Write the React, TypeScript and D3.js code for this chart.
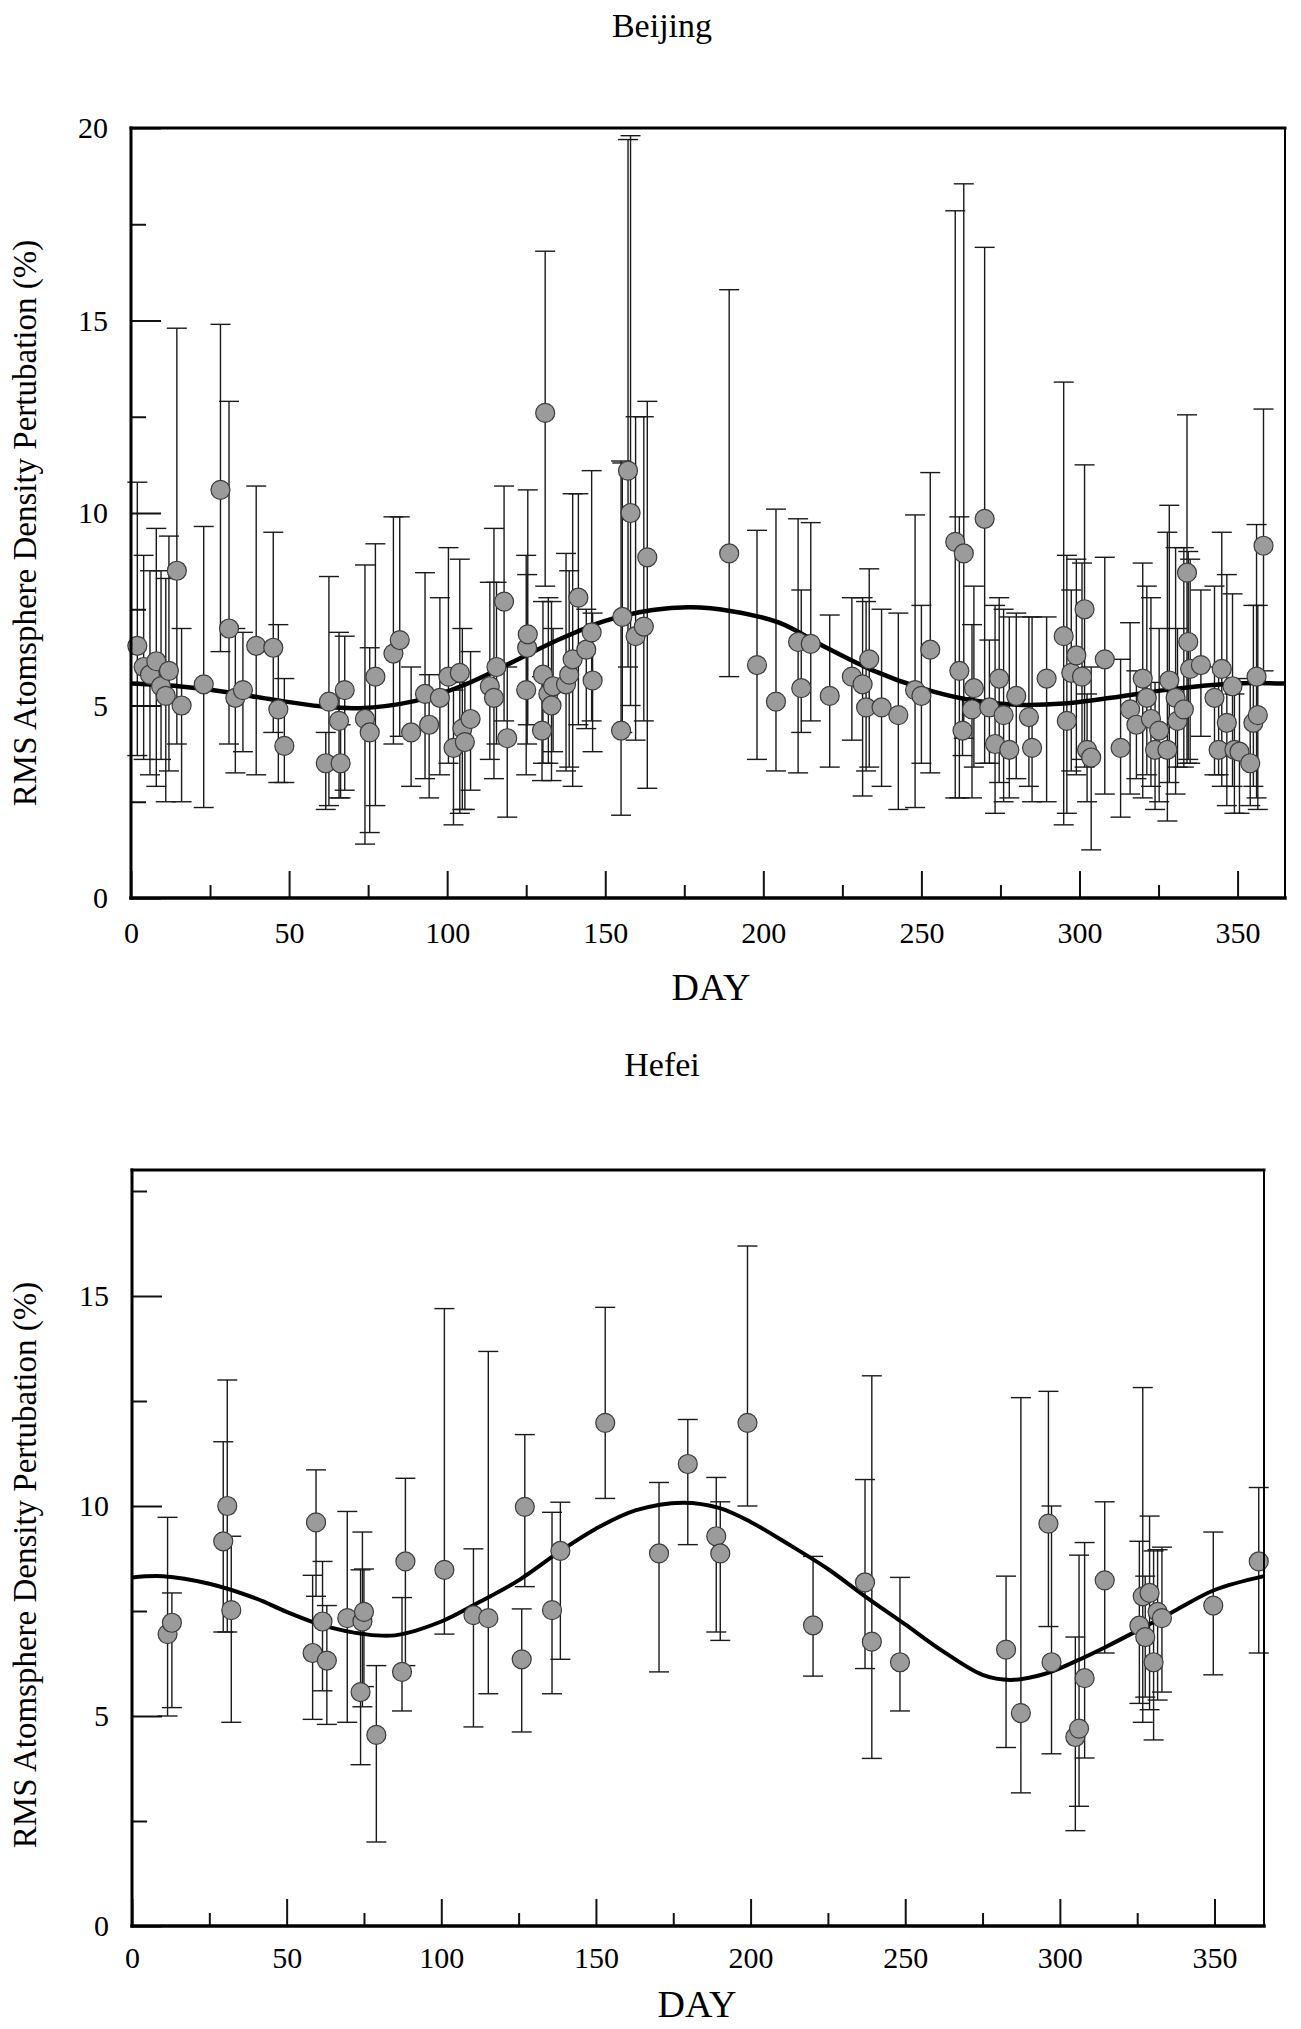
import { useRef, useEffect } from "react"
import * as d3 from "d3"

// [day, rms %, lower end of bar, upper end of bar]
type Obs = [number, number, number, number]
// [day, fitted rms %]
type FitPoint = [number, number]

const dayTicks = [0, 50, 100, 150, 200, 250, 300, 350]
const dayMinorTicks = [25, 75, 125, 175, 225, 275, 325]
const beijingYTicks = [0, 5, 10, 15, 20]
const hefeiYTicks = [0, 5, 10, 15]
const yMinorTicks = [2.5, 7.5, 12.5, 17.5]

const beijingObs: Obs[] = [
  [2, 6.55, 3.7, 10.8], [4, 6.0, 3.6, 8.9], [6, 5.8, 3.2, 8.5], [8, 6.15, 2.9, 9.6],
  [9.5, 5.5, 3.6, 8.5], [11, 5.25, 2.5, 8.3], [12, 5.9, 3.3, 9.4], [14.5, 8.5, 4.0, 14.8],
  [16, 5.0, 2.5, 7.0], [23, 5.55, 2.35, 9.65], [28.3, 10.6, 6.4, 14.9], [31, 7.0, 4.0, 12.9],
  [33, 5.2, 3.25, 7.0], [35.4, 5.4, 3.8, 6.9], [39.6, 6.55, 3.2, 10.7], [45, 6.5, 4.3, 9.5],
  [46.6, 4.9, 3.0, 7.1], [48.5, 3.95, 3.0, 5.7], [61.6, 3.5, 2.3, 4.3], [62.6, 5.1, 2.4, 8.35],
  [65.8, 4.6, 2.6, 6.9], [66.3, 3.5, 2.6, 4.5], [67.6, 5.4, 2.8, 6.8], [74, 4.65, 1.4, 8.65],
  [75.5, 4.3, 1.7, 6.5], [77.3, 5.75, 2.4, 9.2], [83, 6.35, 4.0, 9.9], [85, 6.7, 4.2, 9.9],
  [88.6, 4.3, 2.9, 6.0], [93, 5.3, 3.1, 8.45], [94.3, 4.5, 2.6, 5.8], [97.7, 5.2, 3.2, 7.8],
  [100.4, 5.75, 3.5, 9.1], [102, 3.9, 1.9, 5.4], [104, 5.85, 2.2, 8.8], [104.8, 4.4, 2.3, 7.0],
  [105.6, 4.05, 2.3, 5.6], [107.4, 4.65, 2.8, 6.4], [113.5, 5.5, 3.6, 8.2], [114.8, 5.2, 3.1, 9.6],
  [115.6, 6.0, 4.0, 8.2], [118, 7.7, 4.6, 10.7], [119, 4.15, 2.1, 6.0], [125, 5.4, 3.2, 8.9],
  [125.3, 6.5, 4.0, 8.4], [125.5, 6.85, 4.5, 10.6], [130, 4.35, 3.05, 5.75], [130.3, 5.8, 3.5, 7.7],
  [131, 12.6, 8.1, 16.8], [132, 5.3, 3.5, 7.8], [133, 5.0, 3.05, 7.7], [133.5, 5.5, 3.8, 7.0],
  [137.6, 5.55, 3.3, 8.95], [138.6, 5.8, 3.4, 8.5], [139.7, 6.2, 2.9, 10.5], [141.5, 7.8, 4.5, 10.5],
  [144, 6.45, 4.4, 7.5], [145.7, 6.9, 4.6, 11.1], [146, 5.65, 3.8, 7.4], [155, 4.35, 2.15, 11.35],
  [155.4, 7.3, 4.3, 11.3], [157.2, 11.1, 6.0, 19.7], [158, 10.0, 5.0, 19.8], [159.6, 6.8, 4.1, 12.5],
  [162.2, 7.05, 4.6, 12.5], [163.3, 8.85, 2.85, 12.9], [189.2, 8.95, 5.75, 15.8], [198, 6.05, 3.6, 9.55],
  [204, 5.1, 3.3, 10.1], [211, 6.65, 3.25, 9.85], [212, 5.45, 4.3, 8.0], [215, 6.6, 4.6, 9.75],
  [221, 5.25, 3.4, 7.35], [228, 5.75, 4.1, 7.8], [231.4, 5.55, 2.65, 7.8], [232.5, 4.95, 3.3, 7.7],
  [233.5, 6.2, 3.4, 8.55], [237.4, 4.95, 2.9, 7.5], [242.7, 4.75, 2.3, 7.4], [248, 5.4, 2.35, 9.95],
  [250, 5.25, 3.5, 7.6], [252.8, 6.45, 3.25, 11.05], [260.7, 9.25, 2.6, 17.85], [262, 5.9, 2.6, 9.9],
  [263, 4.35, 3.7, 5.2], [263.4, 8.95, 4.15, 18.55], [266, 4.9, 2.6, 7.1], [266.6, 5.45, 3.4, 8.1],
  [270, 9.85, 3.5, 16.9], [271.5, 4.95, 3.5, 6.7], [273.3, 4.0, 2.2, 7.6], [274.6, 5.7, 3.0, 7.8],
  [276, 4.75, 2.5, 7.5], [277.8, 3.85, 2.6, 7.3], [280, 5.25, 3.1, 7.4], [284, 4.7, 2.9, 7.3],
  [285, 3.9, 2.5, 7.3], [289.6, 5.7, 2.5, 7.3], [295, 6.8, 1.9, 13.4], [296, 4.6, 2.2, 8.9],
  [297.4, 5.85, 3.3, 8.0], [299, 6.3, 3.2, 8.8], [300.8, 5.75, 3.6, 8.7], [301.6, 7.5, 3.4, 11.25],
  [302.4, 3.85, 2.5, 5.3], [303.7, 3.65, 1.25, 6.0], [308, 6.2, 2.7, 8.85], [313, 3.9, 2.1, 6.2],
  [316, 4.9, 2.7, 7.15], [318, 4.5, 3.1, 5.9], [320, 5.7, 2.6, 8.7], [321.3, 5.2, 3.2, 8.1],
  [322.6, 4.65, 2.9, 7.8], [323.9, 3.85, 2.3, 5.6], [325.2, 4.35, 2.5, 7.0], [327.8, 3.85, 2.0, 9.5],
  [328.4, 5.65, 3.0, 10.2], [330.4, 5.2, 2.7, 9.1], [331, 4.6, 3.4, 7.0], [333, 4.9, 3.4, 9.1],
  [334, 8.45, 3.5, 12.55], [334.4, 6.65, 3.6, 9.0], [335, 5.95, 3.5, 8.8], [338.4, 6.05, 4.2, 8.0],
  [342.7, 5.2, 3.2, 8.1], [344, 3.85, 3.2, 6.0], [345, 5.95, 2.9, 9.5], [346.6, 4.55, 2.4, 8.4],
  [348.4, 5.5, 2.9, 7.9], [349, 3.85, 2.2, 5.3], [350.6, 3.8, 2.2, 5.7], [354, 3.5, 2.4, 5.6],
  [355, 4.55, 2.9, 7.6], [356, 5.75, 2.6, 9.7], [356.4, 4.75, 2.3, 7.6], [358.2, 9.15, 5.9, 12.7],
]

const beijingFit: FitPoint[] = [
  [0, 5.57], [15, 5.5], [30, 5.35], [45, 5.15], [60, 4.98], [72, 4.93], [90, 5.12],
  [105, 5.52], [120, 6.1], [135, 6.7], [150, 7.2], [165, 7.48], [177, 7.55], [190, 7.45],
  [205, 7.15], [220, 6.5], [235, 5.9], [250, 5.45], [265, 5.15], [280, 5.02], [295, 5.05],
  [310, 5.2], [325, 5.38], [340, 5.52], [352, 5.58], [365, 5.57],
]

const hefeiObs: Obs[] = [
  [11.5, 6.95, 5.0, 9.73], [12.9, 7.22, 5.2, 7.93], [29.5, 9.16, 7.0, 11.53], [30.8, 10.0, 7.0, 13.0],
  [32.1, 7.52, 4.85, 9.28], [58.4, 6.5, 4.92, 8.35], [59.5, 9.61, 7.85, 10.86], [61.6, 7.25, 5.6, 8.68],
  [63, 6.32, 4.8, 7.63], [69.6, 7.33, 4.85, 9.87], [73.9, 5.57, 3.84, 8.48], [74.5, 7.25, 5.22, 9.38],
  [75, 7.48, 5.7, 8.5], [79, 4.55, 2.0, 6.2], [87.3, 6.05, 5.12, 7.82], [88.4, 8.68, 6.2, 10.66],
  [101, 8.48, 6.95, 14.7], [110.4, 7.4, 4.74, 8.98], [115.2, 7.33, 5.53, 13.68], [126, 6.35, 4.62, 7.55],
  [127, 9.98, 8.08, 11.7], [135.8, 7.52, 5.53, 9.85], [138.5, 8.93, 6.35, 10.09], [153, 11.98, 10.18, 14.73],
  [170.4, 8.87, 6.05, 10.56], [179.7, 11.0, 9.08, 12.06], [188.9, 9.28, 7.0, 10.68], [190.2, 8.87, 6.8, 10.1],
  [199, 11.98, 10.0, 16.19], [220.2, 7.16, 5.95, 8.8], [237, 8.18, 6.13, 10.63], [239.2, 6.77, 3.99, 13.1],
  [248.3, 6.28, 5.12, 8.3], [282.6, 6.58, 4.25, 8.33], [287.4, 5.07, 3.17, 12.58], [296.3, 9.58, 7.13, 12.73],
  [297.3, 6.28, 4.1, 10.0], [305, 4.5, 2.27, 6.88], [306.2, 4.7, 2.85, 8.83], [308, 5.9, 4.0, 9.13],
  [314.5, 8.23, 6.5, 10.1], [325.7, 7.15, 5.3, 9.16], [326.8, 7.85, 4.85, 12.82], [327.6, 6.88, 5.45, 8.33],
  [329, 7.93, 5.15, 9.76], [330.3, 6.28, 4.43, 8.93], [331.6, 7.48, 5.38, 8.96], [333, 7.33, 5.57, 9.02],
  [349.6, 7.63, 5.98, 9.38], [364.3, 8.68, 6.5, 10.44],
]

const hefeiFit: FitPoint[] = [
  [0, 8.3], [10, 8.33], [25, 8.15], [40, 7.8], [50, 7.48], [62, 7.15], [75, 6.95], [85, 6.92],
  [100, 7.25], [112, 7.7], [125, 8.23], [138, 8.9], [150, 9.46], [163, 9.9], [178, 10.08],
  [190, 9.95], [200, 9.62], [212, 9.1], [225, 8.5], [237, 7.85], [250, 7.18], [262, 6.55],
  [275, 5.98], [284, 5.86], [295, 6.0], [305, 6.3], [315, 6.65], [325, 7.03], [337, 7.5],
  [350, 8.0], [366, 8.33],
]

const serif = '"Liberation Serif", "Times New Roman", serif'

interface Panel {
  title: string
  obs: Obs[]
  fit: FitPoint[]
  yTicks: number[]
  xMax: number
  yMax: number
  left: number
  right: number
  top: number
  bottom: number
  titleX: number
  titleY: number
  xLabelX: number
  xLabelY: number
  yLabelY: number
  xTickPad: number
  fitWidth: number
}

const panels: Panel[] = [
  {
    title: "Beijing", obs: beijingObs, fit: beijingFit, yTicks: beijingYTicks,
    xMax: 365, yMax: 20, left: 131, right: 1285, top: 128, bottom: 898,
    titleX: 662, titleY: 37, xLabelX: 711, xLabelY: 1000, yLabelY: 523, xTickPad: 24, fitWidth: 4.5,
  },
  {
    title: "Hefei", obs: hefeiObs, fit: hefeiFit, yTicks: hefeiYTicks,
    xMax: 366, yMax: 18, left: 132, right: 1264, top: 1170, bottom: 1926,
    titleX: 662, titleY: 1076, xLabelX: 697, xLabelY: 2017, yLabelY: 1565, xTickPad: 21, fitWidth: 4,
  },
]

function drawPanel(svg: d3.Selection<SVGSVGElement, unknown, null, undefined>, p: Panel) {
  const x = d3.scaleLinear().domain([0, p.xMax]).range([p.left, p.right])
  const y = d3.scaleLinear().domain([0, p.yMax]).range([p.bottom, p.top])
  const g = svg.append("g")

  // Title
  g.append("text")
    .attr("x", p.titleX)
    .attr("y", p.titleY)
    .attr("text-anchor", "middle")
    .style("font-family", serif)
    .style("font-size", "34px")
    .text(p.title)

  // Error bars
  const bars = g.append("g").attr("stroke", "#1a1a1a").attr("stroke-width", 1.4)
  bars
    .selectAll(".err")
    .data(p.obs)
    .join("line")
    .attr("class", "err")
    .attr("x1", (d) => x(d[0]))
    .attr("x2", (d) => x(d[0]))
    .attr("y1", (d) => y(d[2]))
    .attr("y2", (d) => y(d[3]))
  bars
    .selectAll(".cap-lo")
    .data(p.obs)
    .join("line")
    .attr("class", "cap-lo")
    .attr("x1", (d) => x(d[0]) - 10)
    .attr("x2", (d) => x(d[0]) + 10)
    .attr("y1", (d) => y(d[2]))
    .attr("y2", (d) => y(d[2]))
  bars
    .selectAll(".cap-hi")
    .data(p.obs)
    .join("line")
    .attr("class", "cap-hi")
    .attr("x1", (d) => x(d[0]) - 10)
    .attr("x2", (d) => x(d[0]) + 10)
    .attr("y1", (d) => y(d[3]))
    .attr("y2", (d) => y(d[3]))

  // Fitted curve
  const line = d3
    .line<FitPoint>()
    .x((d) => x(d[0]))
    .y((d) => y(d[1]))
    .curve(d3.curveCatmullRom.alpha(0.5))
  g.append("path")
    .datum(p.fit)
    .attr("d", line)
    .attr("fill", "none")
    .attr("stroke", "#000")
    .attr("stroke-width", p.fitWidth)

  // Observations
  g.append("g")
    .selectAll("circle")
    .data(p.obs)
    .join("circle")
    .attr("cx", (d) => x(d[0]))
    .attr("cy", (d) => y(d[1]))
    .attr("r", 9.5)
    .attr("fill", "#9b9b9b")
    .attr("stroke", "#3c3c3c")
    .attr("stroke-width", 1.2)

  // X axis (ticks point inward)
  g.append("g")
    .attr("transform", `translate(0,${p.bottom})`)
    .call(d3.axisBottom(x).tickValues(dayTicks).tickSize(-27).tickPadding(p.xTickPad).tickFormat(d3.format("d")))
    .call((s) => s.select(".domain").remove())
    .call((s) => s.selectAll("line").attr("stroke", "#111").attr("stroke-width", 2))
    .call((s) => s.selectAll("text").style("font-family", serif).style("font-size", "30px").attr("fill", "#000"))
  g.append("g")
    .attr("transform", `translate(0,${p.bottom})`)
    .call(d3.axisBottom(x).tickValues(dayMinorTicks).tickSize(-13).tickFormat(() => ""))
    .call((s) => s.select(".domain").remove())
    .call((s) => s.selectAll("line").attr("stroke", "#111").attr("stroke-width", 2))

  // Y axis
  g.append("g")
    .attr("transform", `translate(${p.left},0)`)
    .call(d3.axisLeft(y).tickValues(p.yTicks).tickSize(-30).tickPadding(23).tickFormat(d3.format("d")))
    .call((s) => s.select(".domain").remove())
    .call((s) => s.selectAll("line").attr("stroke", "#111").attr("stroke-width", 2))
    .call((s) => s.selectAll("text").style("font-family", serif).style("font-size", "30px").attr("fill", "#000"))
  g.append("g")
    .attr("transform", `translate(${p.left},0)`)
    .call(d3.axisLeft(y).tickValues(yMinorTicks.filter((v) => v < p.yMax)).tickSize(-15).tickFormat(() => ""))
    .call((s) => s.select(".domain").remove())
    .call((s) => s.selectAll("line").attr("stroke", "#111").attr("stroke-width", 2))

  // Frame
  const frame = g.append("g").attr("stroke", "#000").attr("stroke-linecap", "square")
  frame.append("line").attr("x1", p.left).attr("x2", p.right).attr("y1", p.top).attr("y2", p.top).attr("stroke-width", 3)
  frame.append("line").attr("x1", p.right).attr("x2", p.right).attr("y1", p.top).attr("y2", p.bottom).attr("stroke-width", 2)
  frame.append("line").attr("x1", p.left).attr("x2", p.right).attr("y1", p.bottom).attr("y2", p.bottom).attr("stroke-width", 3.5)
  frame.append("line").attr("x1", p.left).attr("x2", p.left).attr("y1", p.top).attr("y2", p.bottom).attr("stroke-width", 3)

  // Axis titles
  g.append("text")
    .attr("x", p.xLabelX)
    .attr("y", p.xLabelY)
    .attr("text-anchor", "middle")
    .style("font-family", serif)
    .style("font-size", "38px")
    .text("DAY")
  g.append("text")
    .attr("transform", `translate(36,${p.yLabelY}) rotate(-90)`)
    .attr("text-anchor", "middle")
    .style("font-family", serif)
    .style("font-size", "33px")
    .text("RMS Atomsphere Density Pertubation (%)")
}

export default function App() {
  const svgRef = useRef<SVGSVGElement | null>(null)

  useEffect(() => {
    if (!svgRef.current) return
    const svg = d3.select(svgRef.current)
    svg.selectAll("*").remove()
    panels.forEach((p) => drawPanel(svg, p))
  }, [])

  return (
    <svg
      ref={svgRef}
      width={1301}
      height={2029}
      style={{ position: "absolute", left: 0, top: 0, background: "#fff" }}
    ></svg>
  )
}
